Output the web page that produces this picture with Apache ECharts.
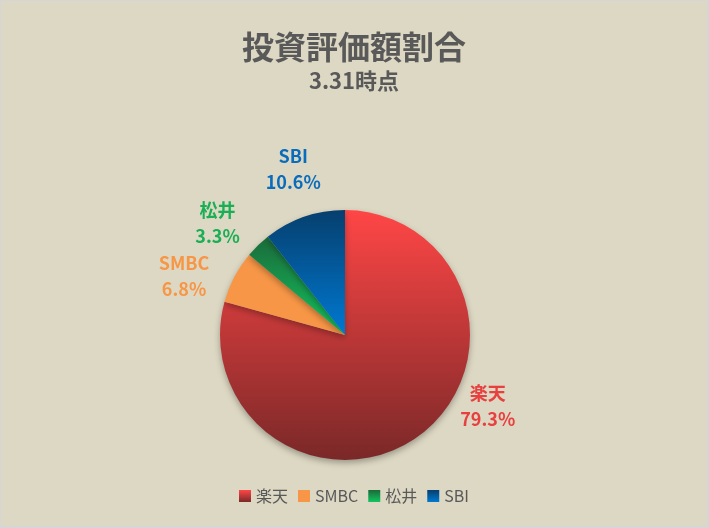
<!DOCTYPE html>
<html lang="ja">
<head>
<meta charset="utf-8">
<title>投資評価額割合</title>
<style>
  * { margin: 0; padding: 0; }
  html, body { width: 709px; height: 528px; background: #d6d6d6; }
  #chart-container {
    position: absolute; left: 1px; top: 1px;
    width: 706px; height: 525px;
    background: #ddd8c3;
  }
</style>
</head>
<body>
<div id="chart-container"></div>
<script src="https://cdn.jsdelivr.net/npm/echarts@6/dist/echarts.min.js"></script>
<script>
// data (percent of total)
var brokers = ['楽天', 'SMBC', '松井', 'SBI'];
var shares = [79.3, 6.8, 3.3, 10.6];
var labelColors = ['#e8403f', '#f79646', '#1aae55', '#0a6dbc'];
// [top, bottom] of each slice's vertical gradient
var sliceColors = [
  ['#ff4646', '#7a2828'],
  ['#f79646', '#f79646'],
  ['#1b6a3a', '#12c55f'],
  ['#063f6e', '#0079d2']
];
var labelOffsets = [[21, -40], [0, 6], [7, -11], [31, -34]];

var font = '"Noto Sans CJK JP", "Noto Sans", sans-serif';
var dom = document.getElementById('chart-container');
var myChart = echarts.init(dom, null, { renderer: 'canvas' });

function grad(c) {
  return new echarts.graphic.LinearGradient(0, 0, 0, 1, [
    { offset: 0, color: c[0] },
    { offset: 1, color: c[1] }
  ]);
}

var pieData = brokers.map(function (name, i) {
  return {
    name: name,
    value: shares[i],
    itemStyle: { color: grad(sliceColors[i]) },
    label: {
      offset: labelOffsets[i],
      rich: { t: { color: labelColors[i], fontSize: 18, fontWeight: 'bold', fontFamily: font, width: 64, align: 'center', lineHeight: 26 } }
    }
  };
});

var option = {
  title: {
    text: '投資評価額割合',
    subtext: '3.31時点',
    left: 'center',
    top: 25,
    itemGap: 7,
    textStyle: { fontSize: 32, fontWeight: 'bold', color: '#595959', fontFamily: font },
    subtextStyle: { fontSize: 22, fontWeight: 'bold', color: '#595959', fontFamily: font }
  },
  legend: {
    bottom: 17,
    left: 'center',
    itemWidth: 12,
    itemHeight: 12,
    itemGap: 10,
    icon: 'rect',
    data: brokers.map(function (n, i) {
      return { name: n, itemStyle: { color: grad(sliceColors[i]) } };
    }),
    textStyle: { fontSize: 16, color: '#595959', fontFamily: font }
  },
  series: [{
    type: 'pie',
    center: [344, 334],
    radius: 125,
    startAngle: 90,
    clockwise: true,
    avoidLabelOverlap: false,
    itemStyle: {
      shadowBlur: 6,
      shadowOffsetY: 3,
      shadowColor: 'rgba(0,0,0,0.3)'
    },
    label: {
      show: true,
      position: 'outside',
      formatter: function (p) {
        return '{t|' + p.name + '}\n{t|' + p.value.toFixed(1) + '%}';
      }
    },
    labelLine: { show: false, length: 15, length2: 0 },
    emphasis: { scale: false },
    data: pieData
  }]
};

myChart.setOption(option);
window.addEventListener('resize', myChart.resize);
</script>
</body>
</html>
